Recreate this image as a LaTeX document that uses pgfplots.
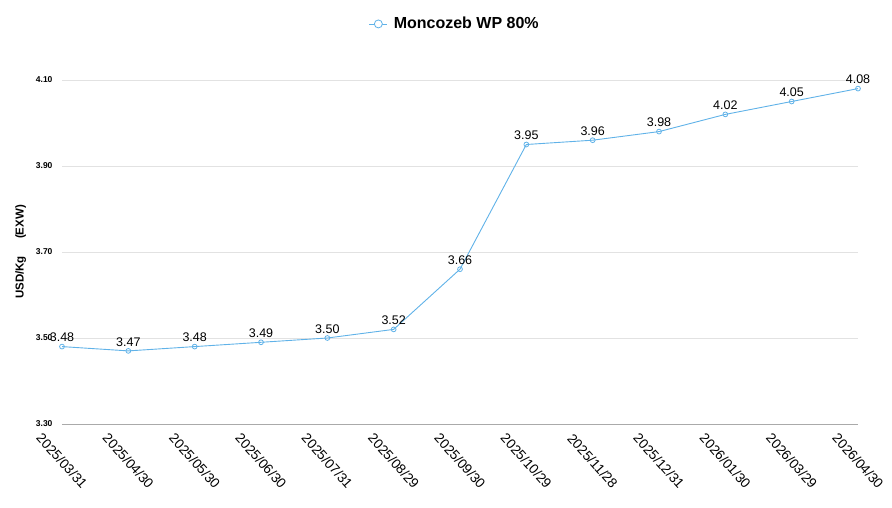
\documentclass[border=0pt]{standalone}
\usepackage{pgfplots}
\pgfplotsset{compat=1.18}
\usepackage{pgfplotstable}
\usepackage{fontspec}
\setmainfont{Liberation Sans}

\definecolor{lineblue}{RGB}{96,178,232}
\definecolor{gridgray}{RGB}{226,226,226}
\definecolor{basegray}{RGB}{170,170,170}

% Monthly EXW price, USD/Kg
\pgfplotstableread{
idx price
0  3.48
1  3.47
2  3.48
3  3.49
4  3.50
5  3.52
6  3.66
7  3.95
8  3.96
9  3.98
10 4.02
11 4.05
12 4.08
}\pricetable

\begin{document}
\begin{tikzpicture}
\begin{axis}[
  name=main,
  scale only axis,
  width=796pt, height=344pt,
  xmin=0, xmax=12,
  ymin=3.3, ymax=4.1,
  clip=false,
  axis line style={draw=none},
  major tick length=0pt,
  xtick={0,...,12},
  xticklabels={2025/03/31,2025/04/30,2025/05/30,2025/06/30,2025/07/31,2025/08/29,2025/09/30,2025/10/29,2025/11/28,2025/12/31,2026/01/30,2026/03/29,2026/04/30},
  xticklabel style={font=\fontsize{13.6}{15}\selectfont, rotate=-48, anchor=center},
  xticklabel shift=37pt,
  ytick={3.5,3.7,3.9,4.1},
  extra y ticks={3.3},
  extra y tick style={grid style={draw=basegray, line width=0.9pt}},
  ymajorgrids,
  grid style={draw=gridgray, line width=0.8pt},
  yticklabel style={font=\bfseries\fontsize{8.5}{10}\selectfont, xshift=-6pt},
  /pgf/number format/.cd, fixed, fixed zerofill, precision=2, assume math mode=true,
  /pgfplots/.cd,
  ylabel={USD/Kg\enspace\quad(EXW)},
  ylabel style={font=\bfseries\fontsize{11.5}{13}\selectfont, at={(axis description cs:-0.052,0.5)}, anchor=center},
  legend style={at={(axis description cs:0.496,1.163)}, anchor=center, draw=none, fill=none,
    font=\bfseries\fontsize{16}{19}\selectfont, legend cell align=left,
    nodes={inner xsep=6pt}},
  legend image code/.code={
    \draw[lineblue, line width=0.8pt] (0pt,0pt) -- (18pt,0pt);
    \draw[lineblue, fill=white, line width=0.8pt] (9pt,0pt) circle (4pt);
  },
]
\addplot[
  color=lineblue, line width=0.9pt,
  mark=o, mark size=2.4pt,
  mark options={fill=white, draw=lineblue, line width=0.8pt},
  point meta=y,
  nodes near coords,
  nodes near coords style={font=\fontsize{12.5}{14}\selectfont, text=black, anchor=south, yshift=1pt},
] table[x=idx, y=price] {\pricetable};
\addlegendentry{Moncozeb WP 80\%}
\end{axis}
\pgfresetboundingbox
\path[use as bounding box] ([xshift=-62pt,yshift=-84pt]main.south west) rectangle ([xshift=34pt,yshift=80pt]main.north east);
\end{tikzpicture}
\end{document}
